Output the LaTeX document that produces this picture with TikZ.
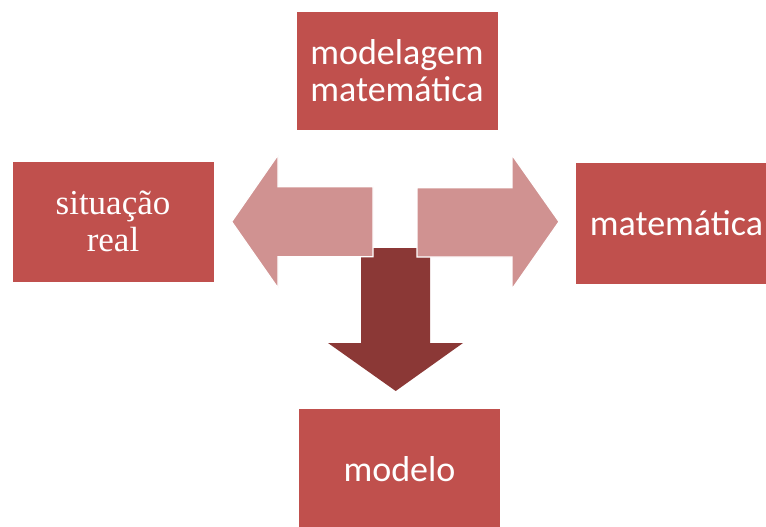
\documentclass[tikz,border=0pt]{standalone}
\usepackage{fontspec}
\setmainfont{Liberation Serif}
\newfontfamily\boxfont{Carlito}
\definecolor{boxred}{RGB}{192,80,77}
\definecolor{lightarrow}{RGB}{208,146,145}
\definecolor{darkarrow}{RGB}{139,56,54}

\begin{document}
\begin{tikzpicture}[x=1pt,y=-1pt,
    box/.style={fill=boxred, text=white, align=center, inner sep=0pt,
      minimum width=201pt, minimum height=120pt},
    sidearrow/.style={fill=lightarrow, draw=white, line width=1.2pt}]

          \useasboundingbox (0,0) rectangle (766,527);
          \clip (0,0) rectangle (766,527);

          % the four boxes
          \node[box, minimum height=118pt, font={\boxfont\fontsize{36}{37}\selectfont}]
            (modelagem) at (397,71) {modelagem\\matemática};
          \node[box, font={\rmfamily\fontsize{35}{37}\selectfont}]
            (situacao) at (113,221.5) {situação\\real};
          \node[box, minimum height=121pt, font={\boxfont\fontsize{36}{37}\selectfont}]
            (matematica) at (676.5,223.5) {matemática};
          \node[box, font={\boxfont\fontsize{36}{37}\selectfont}]
            (modelo) at (399.5,469) {modelo};

          % block arrows, the down one lies under the other two
          \fill[darkarrow] (361,248) -- (430,248) -- (430,343) -- (463,343)
            -- (395.7,391) -- (328,343) -- (361,343) -- cycle;

          \draw[sidearrow] (373,186.7) -- (278,186.7) -- (278,155) -- (231.7,221.7)
            -- (278,288) -- (278,256.7) -- (373,256.7) -- cycle;
          \draw[sidearrow] (417,187.7) -- (512,187.7) -- (512,155) -- (559,221.7)
            -- (512,289) -- (512,257) -- (417,257) -- cycle;
        \end{tikzpicture}
\end{document}
